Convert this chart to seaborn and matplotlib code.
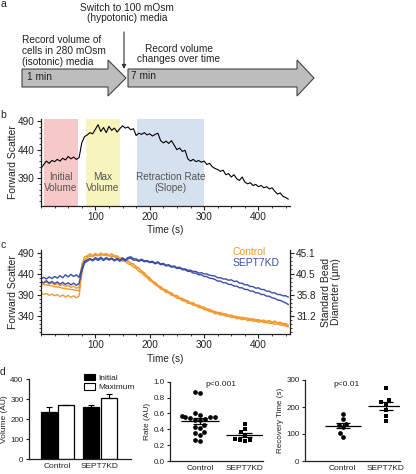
import matplotlib
matplotlib.use("Agg")
import matplotlib.pyplot as plt
from matplotlib.patches import Polygon, Patch
from matplotlib.ticker import MultipleLocator, FormatStrFormatter
import numpy as np
import pandas as pd
import seaborn as sns

W, H = 416, 474

# ---- data -------------------------------------------------------------
TIME = np.arange(0, 460, 5)

FSC_B = [
    407, 414, 420, 416, 421, 419, 423, 420, 425, 422, 428, 424, 427, 423, 426,
    452, 463, 466, 470, 468, 476, 484, 472, 479, 470, 481, 474, 478, 471, 477,
    482, 478, 480, 475, 477, 465, 469, 467, 470, 466, 468, 464, 467, 469, 456,
    452, 455, 451, 456, 448, 440, 443, 437, 439, 424, 420, 423, 419, 421, 418,
    420, 414, 416, 410, 407, 405, 402, 404, 396, 398, 392, 396, 389, 386, 392,
    383, 380, 382, 377, 379, 375, 377, 373, 375, 371, 373, 367, 362, 364, 358,
    356, 353,
]

CTRL_1 = [
    421, 417, 420, 415, 418, 413, 416, 411, 414, 409, 412, 407, 410, 405, 408,
    460, 480, 482, 487, 483, 488, 484, 489, 485, 488, 483, 487, 482, 482, 477,
    477, 472, 470, 465, 463, 456, 453, 446, 442, 434, 430, 422, 419, 412, 409,
    403, 401, 396, 394, 388, 388, 382, 381, 377, 375, 370, 371, 365, 365, 361,
    360, 356, 355, 351, 350, 347, 347, 344, 344, 341, 341, 338, 338, 336, 336,
    334, 334, 332, 332, 330, 330, 328, 329, 326, 328, 324, 327, 323, 324, 321,
    321, 317,
]
CTRL_2 = [
    416, 413, 413, 412, 411, 408, 408, 407, 405, 404, 403, 402, 401, 400, 399,
    450, 471, 480, 481, 482, 483, 483, 484, 484, 483, 482, 481, 480, 476, 475,
    470, 469, 463, 461, 455, 452, 445, 442, 435, 431, 423, 420, 413, 410, 403,
    401, 395, 394, 388, 387, 381, 381, 375, 375, 369, 369, 364, 364, 359, 359,
    354, 354, 349, 349, 344, 345, 341, 342, 338, 339, 335, 336, 332, 333, 330,
    332, 328, 329, 326, 327, 324, 326, 323, 323, 321, 322, 319, 320, 317, 317,
    315, 313,
]
CTRL_3 = [
    394, 390, 393, 388, 391, 387, 390, 385, 389, 384, 388, 383, 387, 382, 386,
    440, 471, 477, 483, 480, 486, 482, 487, 484, 487, 482, 486, 481, 481, 476,
    476, 471, 469, 464, 462, 455, 452, 444, 440, 432, 428, 420, 417, 410, 407,
    401, 399, 394, 392, 386, 386, 380, 379, 374, 373, 368, 368, 363, 363, 358,
    358, 353, 353, 349, 348, 345, 345, 342, 342, 339, 339, 336, 336, 334, 334,
    332, 332, 330, 330, 328, 328, 326, 327, 324, 326, 322, 325, 321, 322, 319,
    319, 315,
]
KD_1 = [
    427, 431, 427, 432, 428, 433, 429, 435, 430, 437, 432, 438, 433, 437, 431,
    452, 469, 472, 476, 472, 478, 474, 479, 473, 478, 474, 477, 472, 476, 471,
    477, 473, 478, 480, 475, 475, 471, 474, 470, 471, 468, 469, 465, 468, 463,
    464, 460, 461, 457, 458, 454, 455, 451, 451, 448, 448, 445, 445, 441, 442,
    439, 439, 436, 435, 434, 430, 430, 427, 427, 424, 425, 421, 422, 417, 417,
    413, 413, 409, 409, 405, 406, 402, 402, 398, 398, 394, 394, 390, 390, 387,
    387, 384,
]
KD_2 = [
    421, 418, 423, 417, 421, 416, 420, 415, 419, 414, 418, 413, 417, 412, 416,
    445, 465, 469, 474, 470, 475, 471, 476, 471, 476, 472, 475, 470, 474, 469,
    474, 470, 475, 477, 472, 472, 469, 472, 468, 469, 466, 467, 463, 466, 461,
    462, 458, 459, 455, 456, 452, 453, 449, 449, 445, 445, 441, 441, 437, 437,
    433, 433, 429, 428, 426, 422, 422, 418, 418, 414, 414, 410, 410, 406, 406,
    402, 402, 398, 398, 394, 394, 390, 390, 386, 386, 382, 381, 377, 376, 373,
    370, 366,
]

SPAN_LO = [5, 82, 176]
SPAN_HI = [68, 146, 300]
SPAN_LABELS = ["Initial\nVolume", "Max\nVolume", "Retraction Rate\n(Slope)"]
SPAN_COLORS = ["#f7c8c8", "#f7f5bb", "#d6e1ef"]

GROUPS = ["Control", "SEPT7KD"]
PHASES = ["Initial", "Maximum"]
VOL_INITIAL = [236, 259]
VOL_MAXIMUM = [268, 303]
SEM_INITIAL = [23, 9]
SEM_MAXIMUM = [3, 24]

RATE_CTRL = [0.87, 0.86, 0.60, 0.58, 0.57, 0.55, 0.55, 0.55, 0.54, 0.53,
             0.52, 0.52, 0.46, 0.43, 0.42, 0.37, 0.35, 0.33, 0.25, 0.26]
RATE_KD = [0.47, 0.40, 0.36, 0.33, 0.28, 0.26, 0.25, 0.27]
REC_CTRL = [173, 155, 138, 135, 125, 104, 90]
REC_KD = [270, 225, 218, 212, 190, 168, 147]

ORANGE = "#f39a2e"
BLUE = "#3a4ea3"

# ---- style ------------------------------------------------------------
sns.set_theme(style="ticks")
plt.rcParams["font.family"] = ["Liberation Sans", "DejaVu Sans"]
plt.rcParams.update({
    "axes.linewidth": 0.9,
    "xtick.major.width": 0.8, "ytick.major.width": 0.8,
    "xtick.minor.width": 0.6, "ytick.minor.width": 0.6,
    "xtick.major.size": 3, "ytick.major.size": 3,
    "xtick.minor.size": 1.6, "ytick.minor.size": 1.6,
    "xtick.major.pad": 1.5, "ytick.major.pad": 1.5,
    "text.color": "#222", "axes.labelcolor": "#222",
    "xtick.color": "#222", "ytick.color": "#222",
    "axes.edgecolor": "#222",
})

fig = plt.figure(figsize=(W / 100, H / 100), dpi=100)


def px_axes(l, t, r, b):
    return fig.add_axes([l / W, 1 - b / H, (r - l) / W, (b - t) / H])


# overlay in pixel coordinates for the diagram, letters and p-values
ov = fig.add_axes([0, 0, 1, 1], zorder=10)
ov.set_xlim(0, W)
ov.set_ylim(H, 0)
ov.axis("off")
ov.patch.set_alpha(0)

for letter, y in zip("abcd", [4, 115, 245, 372]):
    ov.text(3, y, letter, fontsize=7.5, ha="center", va="center")

# ---- panel a: protocol diagram ----------------------------------------
arrow1 = [(22, 69), (108, 69), (108, 60), (126, 78), (108, 96), (108, 87), (22, 87)]
arrow2 = [(128, 69), (297, 69), (297, 60), (314, 78), (297, 96), (297, 87), (128, 87)]
for pts in (arrow1, arrow2):
    ov.add_patch(Polygon(pts, closed=True, facecolor="#bdbdbd",
                         edgecolor="#444", lw=0.8))
ov.text(27, 77, "1 min", fontsize=7.3, va="center")
ov.text(131, 76, "7 min", fontsize=7.3, va="center")
ov.text(22, 51, "Record volume of\ncells in 280 mOsm\n(isotonic) media",
        fontsize=7.3, va="center", ha="left", linespacing=1.1)
ov.text(179, 54, "Record volume\nchanges over time", fontsize=7.3,
        va="center", ha="center", linespacing=1.1)
ov.text(127, 13, "Switch to 100 mOsm\n(hypotonic) media", fontsize=7.3,
        va="center", ha="center", linespacing=1.1)
ov.annotate("", xy=(124, 69), xytext=(124, 32),
            arrowprops=dict(arrowstyle="-|>", lw=0.8, color="#333",
                            mutation_scale=6, shrinkA=0, shrinkB=0))


def style_trace_axes(ax):
    sns.despine(ax=ax)
    ax.set_xlim(0, 458)
    ax.set_xticks([100, 200, 300, 400])
    ax.xaxis.set_minor_locator(MultipleLocator(25))
    ax.yaxis.set_minor_locator(MultipleLocator(10))
    ax.tick_params(labelsize=7.2)
    ax.set_xlabel("Time (s)", fontsize=7.2, va="center")
    ax.set_ylabel("Forward Scatter", fontsize=7.5, va="center")
    ax.yaxis.set_label_coords(-0.112, 0.5)


# ---- panel b ----------------------------------------------------------
axb = px_axes(41, 119, 290, 206)
for lo, hi, col, lab in zip(SPAN_LO, SPAN_HI, SPAN_COLORS, SPAN_LABELS):
    axb.axvspan(lo, hi, color=col, lw=0, zorder=0)
    axb.text((lo + hi) / 2, 383, lab, ha="center", va="center",
             fontsize=7.2, color="#555", linespacing=1.15)
sns.lineplot(x=TIME, y=FSC_B, color="black", lw=0.8, ax=axb)
axb.set_ylim(341, 494)
axb.set_yticks([390, 440, 490])
style_trace_axes(axb)
axb.xaxis.set_label_coords(0.5, -0.276)

# ---- panel c ----------------------------------------------------------
traces = {"Control 1": CTRL_1, "Control 2": CTRL_2, "Control 3": CTRL_3,
          "SEPT7KD 1": KD_1, "SEPT7KD 2": KD_2}
df_c = pd.concat([
    pd.DataFrame({"time": TIME, "fsc": vals, "trace": name,
                  "group": name.split()[0]})
    for name, vals in traces.items()
])
axc = px_axes(41, 250, 290, 334)
sns.lineplot(data=df_c, x="time", y="fsc", hue="group", units="trace",
             estimator=None, palette={"Control": ORANGE, "SEPT7KD": BLUE},
             lw=1.0, legend=False, ax=axc)
axc.set_ylim(296, 496)
axc.set_yticks([340, 390, 440, 490])
style_trace_axes(axc)
axc.xaxis.set_label_coords(0.5, -0.298)
axc.text(0.771, 0.976, "Control", color=ORANGE, fontsize=7.5,
         transform=axc.transAxes, va="center")
axc.text(0.771, 0.845, "SEPT7KD", color=BLUE, fontsize=7.5,
         transform=axc.transAxes, va="center")

axr = axc.twinx()
axr.set_ylim(axc.get_ylim())
axr.set_yticks([340, 390, 440, 490])
axr.set_yticklabels(["31.2", "35.8", "40.5", "45.1"])
axr.yaxis.set_minor_locator(MultipleLocator(10))
axr.tick_params(labelsize=7.2)
for s in ("top", "left", "bottom"):
    axr.spines[s].set_visible(False)
axr.set_ylabel("Standard Bead\nDiameter (\u00b5m)", fontsize=7.5,
               va="center", linespacing=1.05)
axr.yaxis.set_label_coords(1.165, 0.5)

# ---- panel d1: bar chart ----------------------------------------------
df_bar = pd.DataFrame({
    "group": GROUPS * 2,
    "phase": [PHASES[0]] * 2 + [PHASES[1]] * 2,
    "volume": VOL_INITIAL + VOL_MAXIMUM,
})
axd1 = px_axes(29, 379, 131, 459)
sns.barplot(data=df_bar, x="group", y="volume", hue="phase",
            order=GROUPS, hue_order=PHASES,
            palette={"Initial": "black", "Maximum": "white"},
            edgecolor="black", linewidth=0.9, width=0.82, gap=0.08,
            errorbar=None, legend=False, ax=axd1)
for cont, sems in zip(axd1.containers, [SEM_INITIAL, SEM_MAXIMUM]):
    for bar, err in zip(cont, sems):
        axd1.errorbar(bar.get_x() + bar.get_width() / 2, bar.get_height(),
                      yerr=[[0], [err]], color="black", lw=0.8,
                      capsize=2.5, capthick=0.8)
axd1.set_xlim(-0.67, 1.73)
axd1.set_ylim(0, 400)
axd1.set_yticks([0, 100, 200, 300, 400])
axd1.legend(handles=[Patch(facecolor="black", edgecolor="black", lw=0.8),
                     Patch(facecolor="white", edgecolor="black", lw=0.8)],
            labels=PHASES, loc="upper left", frameon=False, fontsize=6,
            bbox_to_anchor=(84 / W, 1 - 374 / H),
            bbox_transform=fig.transFigure, borderpad=0, borderaxespad=0,
            handlelength=1.3, handleheight=0.8, handletextpad=0.4,
            labelspacing=0.15)
axd1.set_ylabel("Volume (AU)", fontsize=6, va="center")
axd1.yaxis.set_label_coords(-0.245, 0.5)


def style_d(ax):
    sns.despine(ax=ax)
    ax.set_xlabel("")
    ax.tick_params(axis="x", length=0, labelsize=6, pad=3)
    ax.tick_params(axis="y", labelsize=5.8, length=2.5)


style_d(axd1)


# ---- panels d2 / d3: dot plots with mean +/- SEM -----------------------
def dot_plot(ax, ctrl, kd):
    sns.swarmplot(x=["Control"] * len(ctrl), y=ctrl, order=GROUPS,
                  marker="o", color="black", size=3.4, ax=ax)
    sns.swarmplot(x=["SEPT7KD"] * len(kd), y=kd, order=GROUPS,
                  marker="s", color="black", size=3.4, ax=ax)
    for i, vals in enumerate([ctrl, kd]):
        m = np.mean(vals)
        s = np.std(vals, ddof=1) / np.sqrt(len(vals))
        ax.hlines(m, i - 0.42, i + 0.42, color="black", lw=0.9)
        ax.hlines([m - s, m + s], i - 0.16, i + 0.16, color="black", lw=0.9)
        ax.vlines(i, m - s, m + s, color="black", lw=0.9)
    style_d(ax)


axd2 = px_axes(170, 381.7, 263, 461)
dot_plot(axd2, RATE_CTRL, RATE_KD)
axd2.set_xlim(-0.667, 1.4)
axd2.set_ylim(0, 1.0)
axd2.set_yticks([0, 0.2, 0.4, 0.6, 0.8, 1.0])
axd2.yaxis.set_major_formatter(FormatStrFormatter("%.1f"))
axd2.set_ylabel("Rate (AU)", fontsize=6, va="center")
axd2.yaxis.set_label_coords(-0.237, 0.5)
ov.text(221, 385, "p<0.001", fontsize=6, ha="center", va="center")

axd3 = px_axes(305, 380, 400, 461)
dot_plot(axd3, REC_CTRL, REC_KD)
axd3.set_xlim(-0.88, 1.33)
axd3.set_ylim(0, 300)
axd3.set_yticks([0, 100, 200, 300])
axd3.set_ylabel("Recovery Time (s)", fontsize=5.8, va="center")
axd3.yaxis.set_label_coords(-0.26, 0.5)
ov.text(347, 385, "p<0.01", fontsize=6, ha="center", va="center")

fig.savefig("out.png", dpi=100)
